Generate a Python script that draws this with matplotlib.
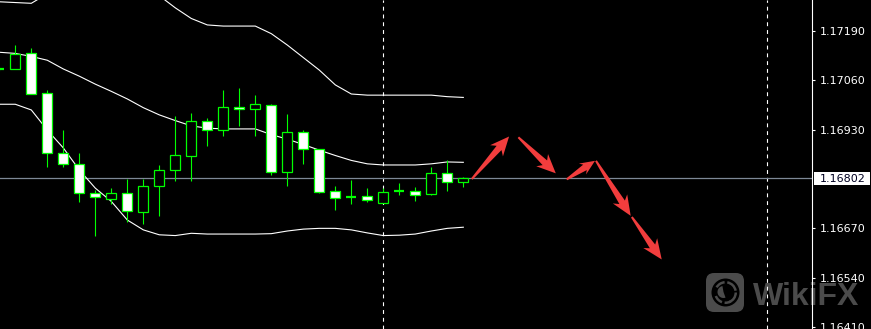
import numpy as np
import matplotlib
matplotlib.use('Agg')
import matplotlib.pyplot as plt
from matplotlib.patches import Polygon, FancyBboxPatch, Circle, Rectangle, Wedge
from matplotlib.transforms import IdentityTransform

# ---------------- data ----------------
opens = [1.17090, 1.17089, 1.17131, 1.17026, 1.16868, 1.16839, 1.16762, 1.16748,
         1.16762, 1.16712, 1.16781, 1.16823, 1.16860, 1.16954, 1.16928, 1.16989,
         1.16984, 1.16994, 1.16819, 1.16923, 1.16878, 1.16768, 1.16753, 1.16755,
         1.16738, 1.16769, 1.16768, 1.16761, 1.16815, 1.16791]
highs = [1.17095, 1.17153, 1.17144, 1.17035, 1.16929, 1.16868, 1.16771, 1.16776,
         1.16801, 1.16800, 1.16837, 1.16966, 1.16973, 1.16960, 1.17035, 1.17040,
         1.17021, 1.16998, 1.16971, 1.16929, 1.16878, 1.16782, 1.16797, 1.16776,
         1.16776, 1.16790, 1.16780, 1.16832, 1.16850, 1.16806]
lows = [1.17085, 1.17089, 1.17023, 1.16832, 1.16832, 1.16740, 1.16651, 1.16734,
        1.16688, 1.16681, 1.16703, 1.16796, 1.16796, 1.16888, 1.16914, 1.16941,
        1.16914, 1.16811, 1.16782, 1.16840, 1.16764, 1.16718, 1.16734, 1.16739,
        1.16738, 1.16759, 1.16743, 1.16759, 1.16769, 1.16780]
closes = [1.17090, 1.17129, 1.17023, 1.16868, 1.16839, 1.16762, 1.16752, 1.16762,
          1.16715, 1.16781, 1.16823, 1.16863, 1.16952, 1.16928, 1.16989, 1.16984,
          1.16997, 1.16818, 1.16923, 1.16878, 1.16767, 1.16749, 1.16753, 1.16746,
          1.16765, 1.16769, 1.16759, 1.16815, 1.16791, 1.16802]

band_upper = [1.17267, 1.17265, 1.17263, 1.17288, 1.17310, 1.17325, 1.17330, 1.17325,
              1.17315, 1.17300, 1.17283, 1.17251, 1.17223, 1.17206, 1.17203, 1.17203,
              1.17203, 1.17183, 1.17153, 1.17120, 1.17087, 1.17048, 1.17024, 1.17021,
              1.17021, 1.17021, 1.17021, 1.17021, 1.17017, 1.17015]
band_middle = [1.17134, 1.17131, 1.17123, 1.17113, 1.17090, 1.17071, 1.17050, 1.17031,
               1.17011, 1.16988, 1.16969, 1.16954, 1.16940, 1.16934, 1.16932, 1.16932,
               1.16932, 1.16917, 1.16905, 1.16891, 1.16876, 1.16862, 1.16849, 1.16840,
               1.16837, 1.16837, 1.16837, 1.16840, 1.16845, 1.16844]
band_lower = [1.16997, 1.16997, 1.16982, 1.16929, 1.16882, 1.16824, 1.16776, 1.16741,
              1.16692, 1.16666, 1.16653, 1.16651, 1.16657, 1.16655, 1.16655, 1.16655,
              1.16655, 1.16656, 1.16663, 1.16668, 1.16670, 1.16670, 1.16666, 1.16658,
              1.16651, 1.16652, 1.16655, 1.16663, 1.16670, 1.16673]

current_price = 1.16802
tick_values = [1.17190, 1.17060, 1.16930, 1.16670, 1.16540, 1.16410]
separator_bars = [24, 48]

arrow_tail_x = [29.53, 32.44, 35.46, 37.29, 39.53]
arrow_tail_y = [1.16800, 1.16910, 1.16799, 1.16848, 1.16700]
arrow_tip_x = [31.86, 34.78, 37.23, 39.46, 41.40]
arrow_tip_y = [1.16912, 1.16815, 1.16848, 1.16703, 1.16588]
arrow_head_len = [19, 19, 15, 20, 20]
arrow_head_wid = [17, 17, 13, 17, 17]

# ---------------- figure ----------------
W, H = 871, 329
AX_W = 812.3
fig = plt.figure(figsize=(W / 100, H / 100), dpi=100, facecolor='black')
ax = fig.add_axes([0, 0, AX_W / W, 1])
ax.set_facecolor('black')
ax.set_xlim(0.044, 50.81)
ax.set_ylim(1.164048, 1.172717)

GREEN = '#00ff00'
RED = '#f23d3d'
WM = '#4b4b4b'

idx = np.arange(len(opens))
o = np.array(opens); c = np.array(closes)
h = np.array(highs); l = np.array(lows)

# separators and price line
for b in separator_bars:
    ax.axvline(b, color='white', lw=0.8, ls=(0, (3.5, 3.5)), zorder=1.2)
ax.axhline(current_price, color='#7d8896', lw=0.9, zorder=1.6)

# bollinger bands
for band in (band_upper, band_middle, band_lower):
    ax.plot(idx, band, color='white', lw=0.8, zorder=2)

# wicks
ax.vlines(idx, l, h, colors=GREEN, lw=0.8, zorder=2.5)

# bodies
doji = np.isclose(o, c)
body = ~doji
fills = np.where(c[body] < o[body], 'white', 'black')
ax.bar(idx[body], np.abs(c[body] - o[body]), bottom=np.minimum(o, c)[body],
       width=0.62, color=fills, edgecolor=GREEN, linewidth=0.9, zorder=3)
ax.hlines(o[doji], idx[doji] - 0.31, idx[doji] + 0.31, colors=GREEN, lw=1.6, zorder=3)

# arrows
def draw_arrow(x0, y0, x1, y1, hl, hw, sw=6.5):
    p0 = ax.transData.transform((x0, y0))
    p1 = ax.transData.transform((x1, y1))
    d = p1 - p0
    L = np.hypot(*d)
    u = d / L
    n = np.array([-u[1], u[0]])
    local = [(0, -1.0), (L - hl * 0.8, -sw / 2), (L - hl, -hw / 2), (L, 0),
             (L - hl, hw / 2), (L - hl * 0.8, sw / 2), (0, 1.0)]
    pts = np.array([p0 + s * u + t * n for s, t in local])
    dpts = ax.transData.inverted().transform(pts)
    ax.add_patch(Polygon(dpts, closed=True, fc=RED, ec='none', zorder=5))

for i in range(len(arrow_tail_x)):
    draw_arrow(arrow_tail_x[i], arrow_tail_y[i], arrow_tip_x[i], arrow_tip_y[i],
               arrow_head_len[i], arrow_head_wid[i])

# axis styling
ax.set_xticks([])
ax.yaxis.tick_right()
ax.set_yticks(tick_values)
ax.set_yticklabels([f'{v:.5f}' for v in tick_values])
ax.tick_params(axis='y', colors='white', length=2.2, width=0.8, pad=3.2, labelsize=8)
for s in ('top', 'bottom', 'left'):
    ax.spines[s].set_visible(False)
ax.spines['right'].set_color('white')
ax.spines['right'].set_linewidth(0.8)

# current price label
ytr = ax.get_yaxis_transform()
py = 1.0 / (ax.transData.transform((0, 1.0))[1] - ax.transData.transform((0, 0.0))[1])
ax.add_artist(Rectangle((1.0 + 1.2 / AX_W, current_price - 6.5 * py), 56 / AX_W, 13 * py,
                        transform=ytr, fc='white', ec='none', clip_on=False, zorder=6))
ax.text(1.0 + 7.5 / AX_W, current_price, f'{current_price:.5f}', transform=ytr,
        color='#000020', fontsize=8, va='center_baseline', ha='left', zorder=7, clip_on=False)

# watermark
idt = IdentityTransform()
ax.add_artist(FancyBboxPatch((706, 17), 38, 39, boxstyle='round,pad=0,rounding_size=8',
                             transform=idt, fc=WM, ec='none', zorder=0.8, clip_on=False))
ax.add_artist(Circle((725.5, 36.5), 14, transform=idt, fc='black', ec='none',
                     zorder=0.85, clip_on=False))
for t1, t2 in [(-70, 0), (10, 80), (95, 150), (200, 250), (265, 300)]:
    ax.add_artist(Wedge((725.5, 36.5), 11.5, t1, t2, width=2.5, transform=idt, fc=WM,
                        ec='none', zorder=0.9, clip_on=False))
ax.add_artist(Wedge((723.5, 37), 6, 100, 290, transform=idt, fc=WM, ec='none',
                    zorder=0.9, clip_on=False))
ax.text(753, 24, 'WikiFX', transform=idt, fontsize=23, family='Liberation Sans',
        fontweight='bold', color=WM, va='baseline', ha='left', zorder=0.8, clip_on=False)

fig.savefig('out.png', dpi=100, facecolor='black')
